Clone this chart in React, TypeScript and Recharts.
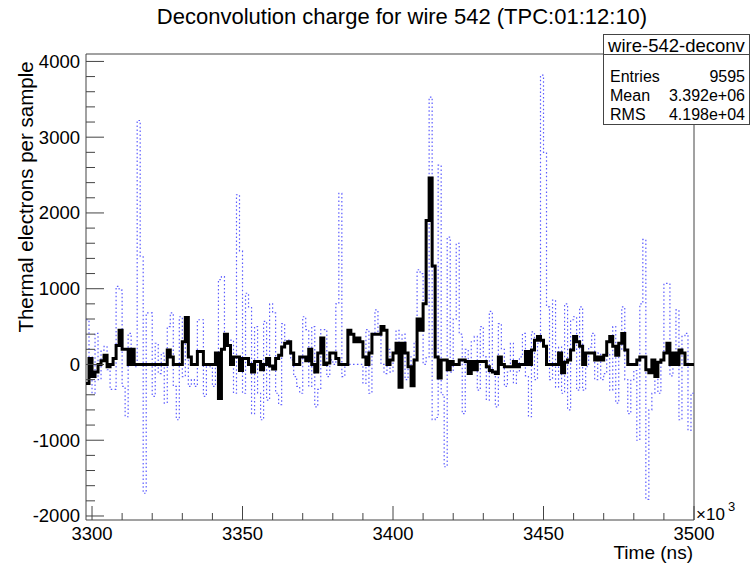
import { LineChart, Line, XAxis, YAxis, ReferenceArea } from "recharts";

// wire 542, one bin per x-unit starting at 3298 (x10^3 ns)
const firstBin = 3298;
const lastEdge = 3500;

// deconvolved charge (black, thick)
const deconvCharge = [
  -250, 80, -160, -100, 0, 50, 120, -30, 0, 80,
  250, 450, 200, 200, 0, 200, 0, 0, 0, 0,
  0, 0, 0, 0, 0, 0, 0, 190, 100, 0,
  0, 0, 300, 620, 100, 0, 0, 170, 170, 0,
  0, 0, 0, 150, -450, 200, 400, 250, 0, 100,
  100, -80, 80, 80, 0, -100, 40, 40, -70, 0,
  80, -20, -60, 80, 120, 230, 280, 300, 150, 0,
  0, 100, 100, 50, 200, 0, -100, 150, 350, 0,
  20, 150, 150, 80, 0, 0, 0, 450, 400, 300,
  350, 300, 100, 0, 150, 400, 400, 400, 500, 450,
  0, 60, 150, 280, -300, 280, 150, -30, -280, 60,
  600, 450, 800, 1900, 2460, 1300, 100, -180, 60, 60,
  -70, 40, 0, 0, 60, 60, 40, -120, 40, -70,
  40, 40, 40, -30, -80, -100, -120, 100, 0, -30,
  -30, -30, 40, -30, 0, 0, 170, 0, 190, 320,
  370, 320, 240, 0, 0, 0, 0, 150, -110, 30,
  60, 190, 370, 300, 240, 0, 150, 150, 150, 60,
  100, 60, 120, 300, 370, 240, 120, 280, 410, 190,
  0, 0, 0, 60, 100, 100, -70, -110, 60, -160,
  30, 60, 150, 280, 0, 150, 0, 190, 150, 0,
  0, 0,
];

// raw signal (blue, dotted)
const rawCharge = [
  590, 100, -380, 410, -200, 190, 240, -70, -330, -330,
  1030, 980, -290, -690, 410, 150, -30, 3220, 1420, -1700,
  680, 680, -420, 280, -120, 150, -510, 500, 680, -290,
  -730, 630, -160, 500, -290, -200, -290, 590, 590, -420,
  -30, -30, -290, -30, 1120, 1160, 240, 320, 320, -380,
  2240, 1500, -380, 940, 760, -650, 500, -380, -730, 570,
  -470, 800, 680, -380, -530, 540, 320, 320, 60, -160,
  -290, -380, 630, 460, -290, 500, -560, -330, 460, 460,
  -160, 60, 0, 800, 2260, -160, 0, 0, 0, 0,
  0, 0, -250, 460, -380, 410, 720, 410, 0, -120,
  200, -100, 150, 450, -50, 400, -200, 100, -100, 300,
  1250, 1200, 0, 100, 3530, -730, -700, 2630, -400, -1350,
  1680, -100, 600, 1600, 400, -650, 200, -100, 300, 370,
  -340, 500, 100, -470, 700, -100, -560, 540, 200, -290,
  -100, 280, -250, -100, 100, 410, -150, -690, 430, -200,
  280, 3820, 2800, 760, -200, 850, -300, 230, -380, 800,
  -600, 590, 630, -340, 760, -340, -30, 230, 410, -200,
  150, -200, -120, 150, -340, 500, -510, 190, 760, -200,
  -650, -200, -80, -1000, 800, 1650, -1780, -600, -380, -100,
  -380, 60, 1070, 1070, -150, 60, 720, -730, 370, 410,
  -870, -380,
];

const xMajor = [3300, 3350, 3400, 3450, 3500];
const yMajor = [-2000, -1000, 0, 1000, 2000, 3000, 4000];
const xDomain = [firstBin, lastEdge];
const yDomain = [-2053, 4098];

const xTicks: number[] = [];
for (let t = 3300; t <= 3500; t += 10) xTicks.push(t);
const yTicks: number[] = [];
for (let v = -2000; v <= 4000; v += 200) yTicks.push(v);

const data = deconvCharge.map((v, i) => ({
  t: firstBin + i,
  deconv: v,
  raw: rawCharge[i],
}));
// closing edge so the last bin gets its full width
data.push({
  t: lastEdge,
  deconv: deconvCharge[deconvCharge.length - 1],
  raw: rawCharge[rawCharge.length - 1],
});

const FONT = '"Liberation Sans", Arial, Helvetica, sans-serif';
const AXIS = "#444";

function TimeTick(props: any) {
  const { x, y, payload } = props;
  const major = xMajor.includes(payload.value);
  return (
    <g>
      <line x1={x} x2={x} y1={y} y2={y - (major ? 14 : 7)} stroke={AXIS} />
      {major && (
        <text x={x} y={y + 13} textAnchor="middle" dominantBaseline="central"
          fontSize={18.5} fontFamily={FONT} fill="#000">
          {payload.value}
        </text>
      )}
    </g>
  );
}

function ChargeTick(props: any) {
  const { x, y, payload } = props;
  const major = yMajor.includes(payload.value);
  return (
    <g>
      <line x1={x} x2={x + (major ? 18 : 9)} y1={y} y2={y} stroke={AXIS} />
      {major && (
        <text x={x - 6} y={y} textAnchor="end" dominantBaseline="central"
          fontSize={18.5} fontFamily={FONT} fill="#000">
          {payload.value}
        </text>
      )}
    </g>
  );
}

export default function App() {
  return (
    <div style={{ position: "absolute", left: 0, top: 0, width: 751, height: 566, background: "#fff" }}>
      <LineChart width={751} height={566} data={data}
        margin={{ top: 54, right: 57, bottom: 0, left: 0 }}>
        <XAxis dataKey="t" type="number" domain={xDomain} allowDataOverflow
          ticks={xTicks} interval={0} height={46} tickSize={0} tickMargin={0}
          tickLine={false} axisLine={false} tick={<TimeTick />} />
        <YAxis type="number" domain={yDomain} allowDataOverflow
          ticks={yTicks} interval={0} width={86} tickSize={0} tickMargin={0}
          tickLine={false} axisLine={false} tick={<ChargeTick />} />
        <Line type="stepAfter" dataKey="raw" stroke="#5c5cff" strokeWidth={1.2}
          strokeDasharray="1.5 2.4" dot={false} activeDot={false} isAnimationActive={false} />
        <Line type="stepAfter" dataKey="deconv" stroke="#000" strokeWidth={3}
          dot={false} activeDot={false} isAnimationActive={false} />
        <ReferenceArea x1={xDomain[0]} x2={xDomain[1]} y1={yDomain[0]} y2={yDomain[1]}
          fill="none" fillOpacity={0} stroke={AXIS} strokeWidth={1} />
      </LineChart>
      <svg width={751} height={566}
        style={{ position: "absolute", left: 0, top: 0, pointerEvents: "none" }}>
        <text x={402} y={24} textAnchor="middle" fontSize={22} fontFamily={FONT} fill="#000">
          Deconvolution charge for wire 542 (TPC:01:12:10)
        </text>
        <text transform="translate(25,197) rotate(-90)" textAnchor="middle" dominantBaseline="central"
          fontSize={20.5} fontFamily={FONT} fill="#000">
          Thermal electrons per sample
        </text>
        <text x={693} y={559} textAnchor="end" fontSize={19} fontFamily={FONT} fill="#000">
          Time (ns)
        </text>
        <text x={696} y={520} fontSize={17} fontFamily={FONT} fill="#000">×10</text>
        <text x={728} y={511} fontSize={13} fontFamily={FONT} fill="#000">3</text>
        <rect x={603.5} y={34.5} width={146} height={90} fill="#fff" stroke={AXIS} />
        <line x1={603.5} x2={749.5} y1={54.5} y2={54.5} stroke={AXIS} />
        <text x={676.5} y={45} textAnchor="middle" dominantBaseline="central"
          fontSize={18.5} fontFamily={FONT} fill="#000">wire-542-deconv</text>
        <text x={610} y={76} dominantBaseline="central" fontSize={16} fontFamily={FONT} fill="#000">Entries</text>
        <text x={745} y={76} textAnchor="end" dominantBaseline="central" fontSize={16} fontFamily={FONT} fill="#000">9595</text>
        <text x={610} y={95} dominantBaseline="central" fontSize={16} fontFamily={FONT} fill="#000">Mean</text>
        <text x={745} y={95} textAnchor="end" dominantBaseline="central" fontSize={16} fontFamily={FONT} fill="#000">3.392e+06</text>
        <text x={610} y={114} dominantBaseline="central" fontSize={16} fontFamily={FONT} fill="#000">RMS</text>
        <text x={745} y={114} textAnchor="end" dominantBaseline="central" fontSize={16} fontFamily={FONT} fill="#000">4.198e+04</text>
      </svg>
    </div>
  );
}
